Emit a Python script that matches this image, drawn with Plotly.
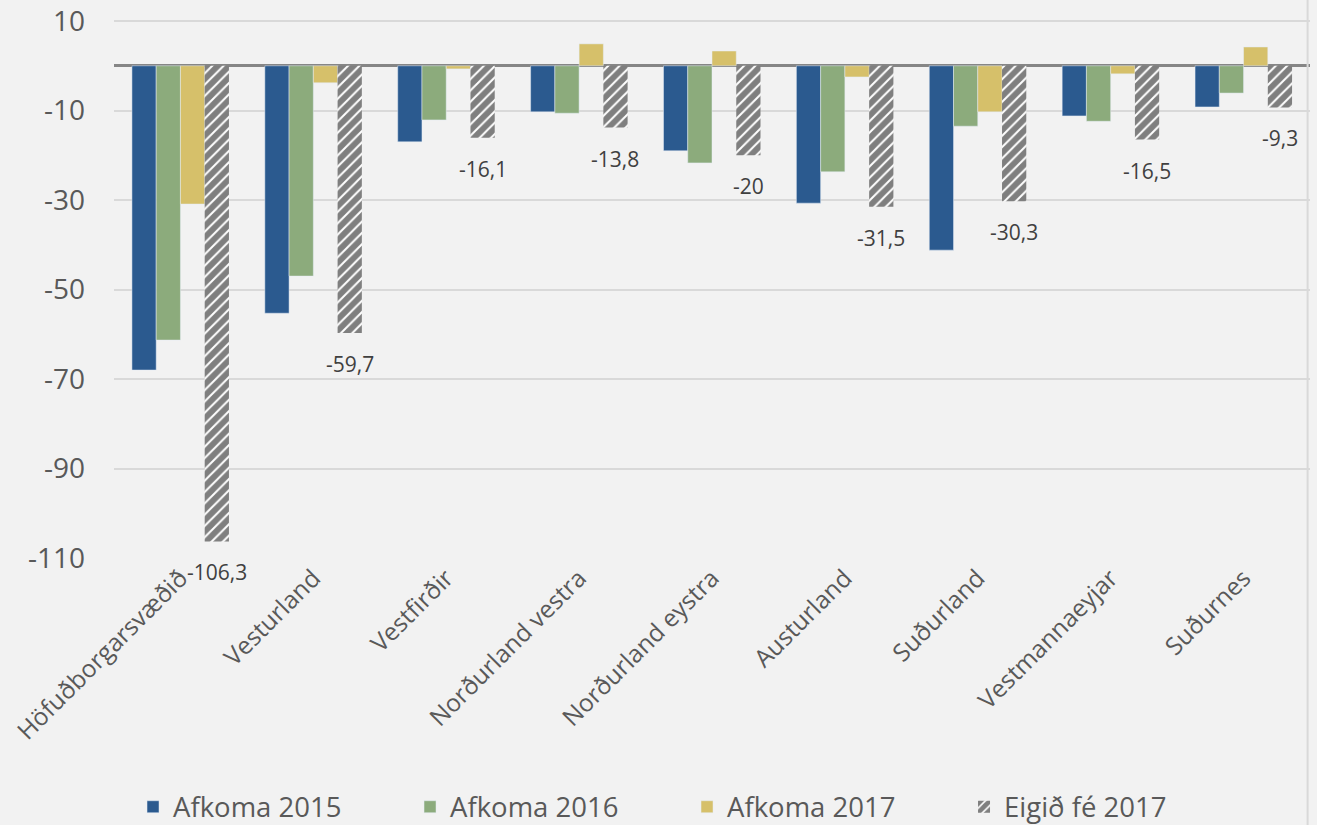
import plotly.graph_objects as go

categories = ["Höfuðborgarsvæðið", "Vesturland", "Vestfirðir", "Norðurland vestra",
              "Norðurland eystra", "Austurland", "Suðurland", "Vestmannaeyjar", "Suðurnes"]
afkoma_2015 = [-68.0, -55.3, -17.0, -10.3, -19.0, -30.7, -41.2, -11.2, -9.2]
afkoma_2016 = [-61.3, -47.0, -12.1, -10.6, -21.7, -23.7, -13.5, -12.4, -6.1]
afkoma_2017 = [-30.9, -3.8, -0.7, 4.9, 3.3, -2.5, -10.3, -1.8, 4.2]
eigid_fe_2017 = [-106.3, -59.7, -16.1, -13.8, -20, -31.5, -30.3, -16.5, -9.3]
y_ticks = [10, -10, -30, -50, -70, -90, -110]
y_tick_labels = [str(v) for v in y_ticks]

TXT = "#595959"
FONT = "Open Sans"

W, H = 1317, 825
ML, MR, MT, MB = 114, 7, 0, 267
BARGAP = 0.27

fig = go.Figure()
fig.add_bar(name="Afkoma 2015", x=categories, y=afkoma_2015, marker_color="#2b5a8f")
fig.add_bar(name="Afkoma 2016", x=categories, y=afkoma_2016, marker_color="#8cab7c")
fig.add_bar(name="Afkoma 2017", x=categories, y=afkoma_2017, marker_color="#d6c06a")
fig.add_bar(name="Eigið fé 2017", x=categories, y=eigid_fe_2017,
            marker=dict(color="white", line=dict(width=0),
                        pattern=dict(shape="/", fgcolor="#000000", bgcolor="white",
                                     size=8, solidity=0.75)))

plot_w = W - ML - MR
cat_w = plot_w / len(categories)
bar_w = cat_w * (1 - BARGAP) / 4
for c, v in zip(categories, eigid_fe_2017):
    txt = ("%g" % v).replace(".", ",")
    fig.add_annotation(x=c, y=v, text=txt, showarrow=False, xshift=1.5 * bar_w,
                       yshift=-31, font=dict(family=FONT, size=21, color="#404040"))

fig.add_shape(type="line", xref="paper", yref="paper", x0=0.998, x1=0.998, y0=-1, y1=1.1,
              line=dict(color="#d9d9d9", width=2))

fig.update_layout(
    width=W, height=H,
    margin=dict(l=ML, r=MR, t=MT, b=MB, autoexpand=False),
    paper_bgcolor="#f2f2f2", plot_bgcolor="#f2f2f2",
    barmode="group", bargap=BARGAP, bargroupgap=0,
    font=dict(family=FONT, color=TXT, size=24),
    legend=dict(orientation="h", x=0.0159, xanchor="left", y=-0.446, yanchor="middle",
                font=dict(size=27.5, color=TXT), entrywidth=232, entrywidthmode="pixels",
                bgcolor="rgba(0,0,0,0)"),
    showlegend=True,
)
fig.update_xaxes(tickangle=-45, tickfont=dict(size=24.5, color=TXT), showgrid=False,
                 showline=False, ticks="", automargin=False)
fig.update_yaxes(range=[-110, 14.7], tickvals=y_ticks, ticktext=y_tick_labels,
                 tickfont=dict(size=28, color=TXT), ticklabeloverflow="allow",
                 showgrid=True, gridcolor="#d9d9d9", gridwidth=2,
                 zeroline=True, zerolinecolor="#868686", zerolinewidth=3,
                 ticks="", ticklabelstandoff=28, showline=False, automargin=False)

fig.write_html("out.html", config={"displayModeBar": False},
               post_script="document.body.style.margin='0px';"
                           "document.body.style.background='#f2f2f2';")
